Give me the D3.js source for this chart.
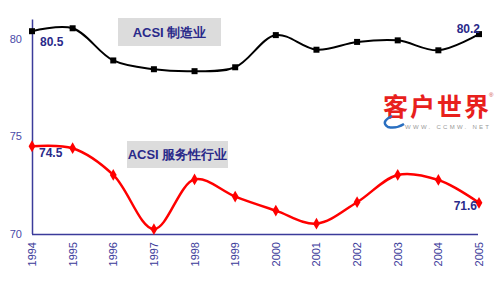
<!DOCTYPE html>
<html>
<head>
<meta charset="utf-8">
<script src="https://cdn.jsdelivr.net/npm/d3@7"></script>
<style>
  body { margin: 0; background: #fff; }
  svg { display: block; font-family: Arial, "Liberation Sans", sans-serif; }
</style>
</head>
<body>
<script>
var years = [1994, 1995, 1996, 1997, 1998, 1999, 2000, 2001, 2002, 2003, 2004, 2005];
var manufacturing = [80.4, 80.55, 78.9, 78.45, 78.35, 78.55, 80.2, 79.45, 79.85, 79.93, 79.42, 80.25];
var services = [74.5, 74.4, 73.03, 70.25, 72.8, 71.92, 71.2, 70.53, 71.63, 73.03, 72.77, 71.6];
var yTicks = [70, 75, 80];
var seriesNames = ['ACSI 制造业', 'ACSI 服务性行业'];

var width = 500, height = 303;
var axisColor = '#3b3b9a';
var labelColor = '#2a2a8a';

var svg = d3.select('body').append('svg')
  .attr('width', width)
  .attr('height', height);

var x = d3.scalePoint().domain(years).range([32, 479]);
var y = d3.scaleLinear().domain([70, 81]).range([234, 19.5]);

// axes lines
svg.append('line')
  .attr('x1', 32.5).attr('x2', 32.5)
  .attr('y1', y(81)).attr('y2', y(70))
  .attr('stroke', axisColor).attr('stroke-width', 1.5);
svg.append('line')
  .attr('x1', 32).attr('x2', 478)
  .attr('y1', y(70) + 0.5).attr('y2', y(70) + 0.5)
  .attr('stroke', axisColor).attr('stroke-width', 1.5);

svg.selectAll('.ytick')
  .data(yTicks)
  .enter().append('text')
  .attr('x', 22)
  .attr('y', function(d) { return y(d); })
  .attr('dy', '0.35em')
  .attr('text-anchor', 'end')
  .attr('fill', '#4a4aa8')
  .style('font-size', '11px')
  .text(function(d) { return d; });

svg.selectAll('.xtick')
  .data(years)
  .enter().append('text')
  .attr('transform', function(d) { return 'translate(' + (x(d) + 4) + ',' + 242 + ') rotate(-90)'; })
  .attr('text-anchor', 'end')
  .attr('fill', axisColor)
  .style('font-size', '11px')
  .text(function(d) { return d; });

// legend boxes
var legends = [
  {name: seriesNames[0], x: 118, y: 18, w: 103, h: 28},
  {name: seriesNames[1], x: 127, y: 141, w: 101, h: 27}
];
legends.forEach(function(l) {
  svg.append('rect')
    .attr('x', l.x).attr('y', l.y)
    .attr('width', l.w).attr('height', l.h)
    .attr('fill', '#dcdcdc');
  svg.append('text')
    .attr('x', l.x + l.w / 2)
    .attr('y', l.y + l.h / 2)
    .attr('dy', '0.35em')
    .attr('text-anchor', 'middle')
    .attr('fill', labelColor)
    .style('font-size', '13px')
    .style('font-weight', 'bold')
    .text(l.name);
});

// logo
var logo = svg.append('g');
logo.append('text')
  .attr('x', 383).attr('y', 116)
  .attr('fill', '#e8201c')
  .style('font-family', '"Noto Sans CJK SC", sans-serif')
  .style('font-size', '25px')
  .style('font-weight', 'bold')
  .attr('textLength', 106)
  .text('客户世界');
logo.append('text')
  .attr('x', 489).attr('y', 97)
  .attr('fill', '#c44')
  .style('font-size', '6px')
  .text('®');
logo.append('path')
  .attr('d', 'M392,116 Q380,122 388,127 Q396,129 404,124')
  .attr('fill', 'none')
  .attr('stroke', '#2a6fc0')
  .attr('stroke-width', 2.5);
logo.append('text')
  .attr('x', 405).attr('y', 129)
  .attr('fill', '#999')
  .style('font-size', '6px')
  .attr('textLength', 84)
  .text('WWW. CCMW. NET');

var line = d3.line()
  .x(function(d, i) { return x(years[i]); })
  .y(function(d) { return y(d); })
  .curve(d3.curveCatmullRom.alpha(0.5));

svg.append('path')
  .datum(manufacturing)
  .attr('d', line)
  .attr('fill', 'none')
  .attr('stroke', '#000')
  .attr('stroke-width', 2);

svg.append('path')
  .datum(services)
  .attr('d', line)
  .attr('fill', 'none')
  .attr('stroke', '#ff0000')
  .attr('stroke-width', 2.5);

svg.selectAll('.sq')
  .data(manufacturing)
  .enter().append('rect')
  .attr('x', function(d, i) { return x(years[i]) - 3; })
  .attr('y', function(d) { return y(d) - 3; })
  .attr('width', 6).attr('height', 6)
  .attr('fill', '#000');

svg.selectAll('.dm')
  .data(services)
  .enter().append('path')
  .attr('d', d3.symbol().type(d3.symbolDiamond).size(40))
  .attr('transform', function(d, i) { return 'translate(' + x(years[i]) + ',' + y(d) + ')'; })
  .attr('fill', '#ff0000');

// data labels
var dataLabels = [
  {text: '80.5', x: 40, y: 42, anchor: 'start'},
  {text: '80.2', x: 480, y: 29, anchor: 'end'},
  {text: '74.5', x: 39, y: 153, anchor: 'start'},
  {text: '71.6', x: 477, y: 206, anchor: 'end'}
];
svg.selectAll('.dl')
  .data(dataLabels)
  .enter().append('text')
  .attr('x', function(d) { return d.x; })
  .attr('y', function(d) { return d.y; })
  .attr('dy', '0.35em')
  .attr('text-anchor', function(d) { return d.anchor; })
  .attr('fill', labelColor)
  .style('font-size', '12px')
  .style('font-weight', 'bold')
  .text(function(d) { return d.text; });
</script>
</body>
</html>
